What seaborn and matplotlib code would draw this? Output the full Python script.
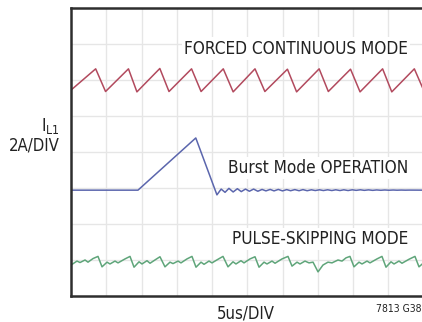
import matplotlib
matplotlib.use("Agg")
import matplotlib.pyplot as plt
import pandas as pd
import seaborn as sns

# Horizontal scale: 5 us per division, 10 divisions; vertical: 8 divisions
US_PER_DIV = 5.0
N_XDIV = 10
N_YDIV = 8

# Forced continuous mode inductor current (time in us, level in divisions)
fcm_t = [0.0, 3.5, 4.9, 8.15, 9.35, 12.6, 13.9, 17.1, 18.45, 21.6, 23.0,
         26.1, 27.5, 30.7, 32.0, 35.2, 36.5, 39.65, 41.0, 44.2, 45.5, 48.7, 50.1]
fcm_y = [5.72, 6.31, 5.68, 6.31, 5.67, 6.32, 5.68, 6.31, 5.68, 6.31, 5.67,
         6.31, 5.68, 6.30, 5.67, 6.31, 5.68, 6.30, 5.67, 6.31, 5.67, 6.31, 5.68]

# Burst Mode operation: idle, one burst, then decaying ringing
bm_t = [0.0, 9.5, 17.7, 20.7, 21.3, 21.85, 22.4, 23.0, 23.6, 24.15, 24.75,
        25.3, 25.9, 26.5, 27.1, 27.65, 28.25, 28.8, 29.4, 30.0, 30.6, 31.15,
        31.75, 32.35, 32.9, 33.5, 34.1, 34.65, 35.25, 35.8, 36.4, 37.0, 37.55,
        38.15, 38.7, 39.3, 39.9, 40.45, 41.05, 41.6, 42.2, 42.8, 43.35, 43.95,
        44.5, 45.1, 45.7, 46.25, 46.85, 47.4, 48.0, 50.0]
bm_y = [2.94, 2.94, 4.39, 2.81, 2.97, 2.88, 2.99, 2.89, 2.98, 2.90, 2.97,
        2.91, 2.97, 2.91, 2.96, 2.92, 2.96, 2.92, 2.96, 2.92, 2.955, 2.925,
        2.955, 2.925, 2.955, 2.925, 2.95, 2.93, 2.95, 2.93, 2.95, 2.93, 2.95,
        2.93, 2.95, 2.93, 2.95, 2.935, 2.95, 2.935, 2.948, 2.935, 2.946, 2.937,
        2.945, 2.938, 2.944, 2.939, 2.943, 2.94, 2.942, 2.94]

# Pulse-skipping mode inductor current
ps_t = [0.0, 0.85, 1.28, 1.99, 2.41, 3.12, 3.83,
        4.40, 5.11, 5.53, 6.24, 6.67, 7.66, 8.37,
        8.94, 9.65, 10.07, 10.78, 11.21, 12.06, 12.62,
        13.33, 14.04, 14.47, 15.18, 15.60, 16.45, 17.16,
        17.73, 18.44, 18.87, 19.57, 20.00, 20.85, 21.56,
        22.27, 22.98, 23.40, 24.11, 24.54, 25.39, 26.10,
        26.67, 27.38, 27.80, 28.51, 28.94, 29.93, 30.78,
        31.35, 32.06, 32.48, 33.19, 33.76, 34.33,
        35.04, 35.74, 36.45, 37.02, 37.87, 38.44, 39.01, 39.57,
        40.14, 40.85, 41.28, 41.99, 42.41, 43.40, 44.11,
        44.68, 45.39, 45.82, 46.52, 46.95, 47.94, 48.79,
        49.36, 50.0]
ps_y = [0.86, 0.97, 0.93, 1.00, 0.94, 1.04, 1.10,
        0.81, 0.94, 0.89, 0.97, 0.92, 1.03, 1.10,
        0.80, 0.95, 0.89, 0.98, 0.91, 1.02, 1.09,
        0.81, 0.94, 0.90, 0.97, 0.92, 1.03, 1.10,
        0.80, 0.94, 0.88, 0.97, 0.92, 1.02, 1.10,
        0.81, 0.95, 0.89, 0.98, 0.92, 1.03, 1.09,
        0.80, 0.94, 0.89, 0.97, 0.91, 1.03, 1.10,
        0.83, 0.94, 0.89, 0.97, 0.92, 0.94,
        0.67, 0.86, 0.94, 0.92, 1.00, 0.97, 1.06, 1.10,
        0.81, 0.94, 0.89, 0.97, 0.92, 1.03, 1.10,
        0.80, 0.95, 0.89, 0.97, 0.91, 1.02, 1.10,
        0.81, 0.92]

trace_labels = ["FORCED CONTINUOUS MODE", "Burst Mode OPERATION", "PULSE-SKIPPING MODE"]
label_y = [6.875, 3.56, 1.58]
y_label_lines = ["I$_{\\mathregular{L1}}$", "2A/DIV"]
x_label = "5us/DIV"
figure_id = "7813 G38"

traces = pd.concat([
    pd.DataFrame({"t": fcm_t, "y": fcm_y, "mode": "fcm"}),
    pd.DataFrame({"t": bm_t, "y": bm_y, "mode": "burst"}),
    pd.DataFrame({"t": ps_t, "y": ps_y, "mode": "pulse"}),
], ignore_index=True)
colors = {"fcm": "#b24a5e", "burst": "#5b66ad", "pulse": "#5fa57a"}

sns.set_style("white")
plt.rcParams["font.family"] = ["DejaVu Sans"]
plt.rcParams["font.stretch"] = "condensed"

fig = plt.figure(figsize=(4.22, 3.22), dpi=100)
ax = fig.add_axes([71 / 422, 1 - 296 / 322, 352.5 / 422, 288 / 322])

sns.lineplot(data=traces, x="t", y="y", hue="mode", palette=colors,
             estimator=None, sort=False, linewidth=1.1, legend=False, ax=ax)

ax.set_xlim(0, N_XDIV * US_PER_DIV)
ax.set_ylim(0, N_YDIV)
ax.set_xticks([i * US_PER_DIV for i in range(1, N_XDIV)])
ax.set_yticks(range(1, N_YDIV))
ax.grid(True, color="#e6e6e6", linewidth=1.0)
ax.tick_params(length=0, labelbottom=False, labelleft=False)
ax.set_xlabel("")
ax.set_ylabel("")
for side in ("left", "top", "bottom"):
    ax.spines[side].set_color("#2e2e2e")
    ax.spines[side].set_linewidth(1.8)
ax.spines["right"].set_visible(False)

for text, yy in zip(trace_labels, label_y):
    ax.text(47.8, yy, text, ha="right", va="center", fontsize=12.3,
            color="#222222",
            bbox=dict(facecolor="white", edgecolor="none", pad=1.5))

fig.text(60 / 422, 1 - 126 / 322, y_label_lines[0], ha="right", va="center",
         fontsize=12.5, color="#222222")
fig.text(60 / 422, 1 - 145 / 322, y_label_lines[1], ha="right", va="center",
         fontsize=12, color="#222222")
fig.text(246 / 422, 1 - 314 / 322, x_label, ha="center", va="center",
         fontsize=12, color="#222222")
fig.text(421 / 422, 1 - 309 / 322, figure_id, ha="right", va="center",
         fontsize=7.5, color="#222222")

fig.savefig("out.png", dpi=100)
